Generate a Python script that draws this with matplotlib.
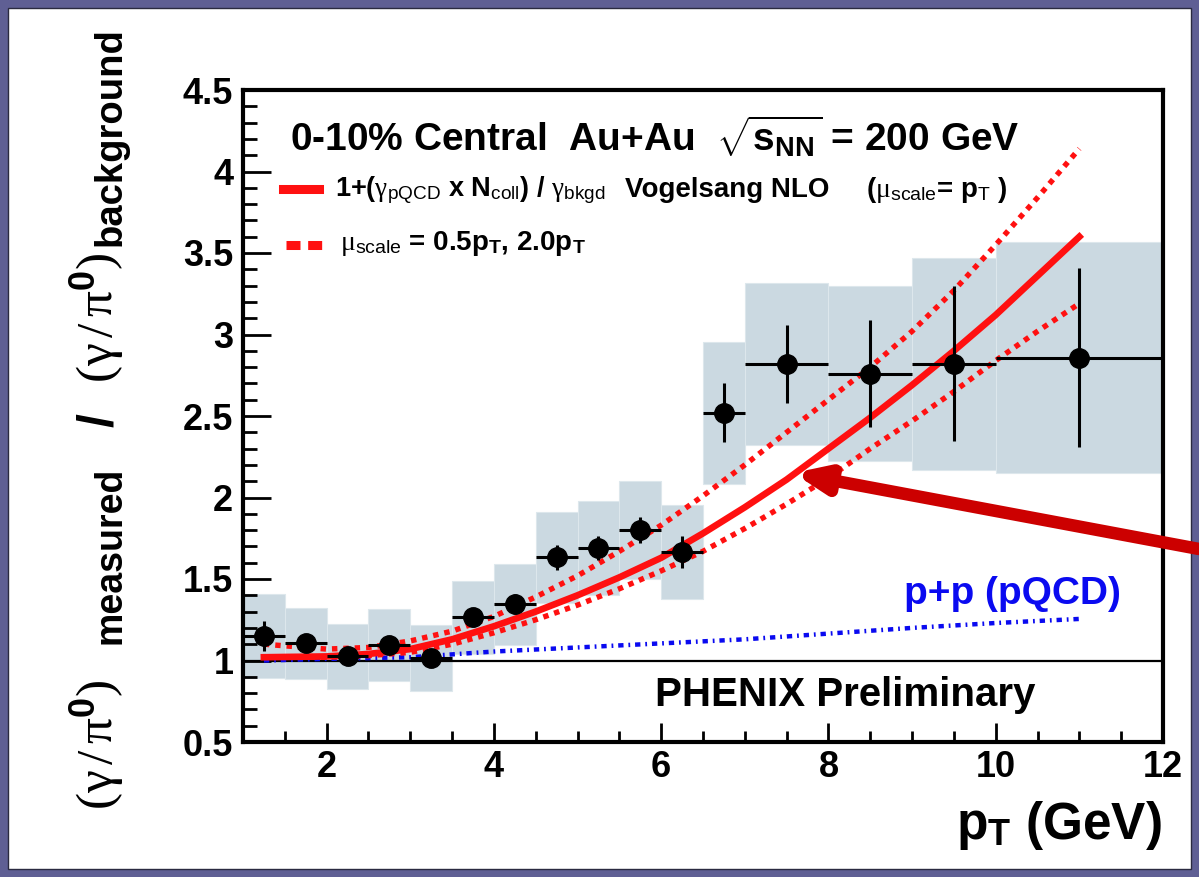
import matplotlib
matplotlib.use("Agg")
import matplotlib.pyplot as plt
from matplotlib.patches import Rectangle
from matplotlib.ticker import MultipleLocator, FormatStrFormatter

# ---------------- data ----------------
pt = [1.25, 1.75, 2.25, 2.75, 3.25, 3.75, 4.25, 4.75, 5.25, 5.75, 6.25, 6.75, 7.5, 8.5, 9.5, 11.0]
bin_lo = [1.0, 1.5, 2.0, 2.5, 3.0, 3.5, 4.0, 4.5, 5.0, 5.5, 6.0, 6.5, 7.0, 8.0, 9.0, 10.0]
bin_hi = [1.5, 2.0, 2.5, 3.0, 3.5, 4.0, 4.5, 5.0, 5.5, 6.0, 6.5, 7.0, 8.0, 9.0, 10.0, 12.0]
ratio = [1.15, 1.105, 1.025, 1.095, 1.015, 1.265, 1.345, 1.633, 1.69, 1.80, 1.665, 2.52, 2.82, 2.76, 2.82, 2.858]
stat_err = [0.09, 0.03, 0.03, 0.03, 0.03, 0.06, 0.06, 0.075, 0.075, 0.08, 0.10, 0.18, 0.24, 0.33, 0.475, 0.55]
sys_err = [0.255, 0.22, 0.20, 0.22, 0.20, 0.225, 0.25, 0.28, 0.29, 0.30, 0.29, 0.435, 0.495, 0.535, 0.65, 0.71]

theory_pt = [1.25, 2.0, 2.5, 3.0, 3.5, 4.0, 4.5, 5.0, 5.5, 6.0, 6.5, 7.0, 7.5, 8.0, 8.5, 9.0, 9.5, 10.0, 10.5, 11.0]
nlo_central = [1.02, 1.025, 1.04, 1.07, 1.13, 1.21, 1.30, 1.40, 1.51, 1.63, 1.78, 1.94, 2.11, 2.30, 2.49, 2.69, 2.90, 3.12, 3.36, 3.60]
nlo_upper = [1.10, 1.07, 1.08, 1.12, 1.18, 1.27, 1.39, 1.52, 1.67, 1.83, 2.01, 2.20, 2.40, 2.60, 2.80, 3.02, 3.27, 3.55, 3.84, 4.14]
nlo_lower = [1.02, 1.02, 1.03, 1.05, 1.10, 1.17, 1.25, 1.34, 1.44, 1.55, 1.67, 1.81, 1.96, 2.12, 2.30, 2.47, 2.65, 2.84, 3.02, 3.19]

pp_pt = [1.25, 2.0, 3.0, 4.0, 5.0, 6.0, 7.0, 8.0, 9.0, 10.0, 11.0]
pp_pqcd = [1.00, 1.01, 1.02, 1.055, 1.08, 1.105, 1.13, 1.165, 1.20, 1.23, 1.255]

# ---------------- style ----------------
plt.rcParams['font.family'] = ['Liberation Sans', 'DejaVu Sans']
plt.rcParams['mathtext.fontset'] = 'custom'
plt.rcParams['mathtext.rm'] = 'Liberation Serif'
plt.rcParams['mathtext.it'] = 'Liberation Serif:italic'
plt.rcParams['mathtext.bf'] = 'Liberation Sans:bold'
plt.rcParams['mathtext.sf'] = 'Liberation Sans'

RED = '#ff1010'
W, H = 1199, 877
fig = plt.figure(figsize=(W / 100, H / 100), dpi=100)
fig.patch.set_facecolor('#5f5f94')

# white slide panel
panel = Rectangle((8 / W, 8 / H), 1 - 16 / W, 1 - 16 / H, transform=fig.transFigure,
                  facecolor='white', edgecolor='#2a2a40', lw=1.0, zorder=-5)
fig.patches.append(panel)

ax = fig.add_axes([243 / W, 1 - 742 / H, (1163 - 243) / W, (742 - 90) / H])
ax.set_zorder(1)
ax.set_facecolor('white')
ax.set_xlim(1, 12)
ax.set_ylim(0.5, 4.5)

box_color = '#cbd9e1'
for lo, hi, y, s in zip(bin_lo, bin_hi, ratio, sys_err):
    ax.add_patch(Rectangle((lo, y - s), hi - lo, 2 * s, facecolor=box_color,
                           edgecolor='#dde7ec', lw=0.8, zorder=1))

ax.axhline(1.0, color='black', lw=1.6, zorder=2)

ax.plot(pp_pt, pp_pqcd, color='#0a0af0', lw=3.2, linestyle=(0, (1.2, 1.1, 0.4, 1.1)), zorder=3)

ax.plot(theory_pt, nlo_upper, color=RED, lw=3.9, linestyle=(0, (1.0, 1.1)), zorder=4)
ax.plot(theory_pt, nlo_lower, color=RED, lw=3.9, linestyle=(0, (1.0, 1.1)), zorder=4)
ax.plot(theory_pt, nlo_central, color=RED, lw=4.8, zorder=4)

xerr_lo = [p - lo for p, lo in zip(pt, bin_lo)]
xerr_hi = [hi - p for p, hi in zip(pt, bin_hi)]
ax.errorbar(pt, ratio, yerr=stat_err, xerr=[xerr_lo, xerr_hi], fmt='o', color='black',
            ms=14, elinewidth=2.2, capsize=0, zorder=5)

# axes styling
for sp in ax.spines.values():
    sp.set_linewidth(3.0)
    sp.set_zorder(6)
ax.xaxis.set_major_locator(MultipleLocator(2))
ax.xaxis.set_minor_locator(MultipleLocator(0.5))
ax.yaxis.set_major_locator(MultipleLocator(0.5))
ax.yaxis.set_minor_locator(MultipleLocator(0.1))
ax.yaxis.set_major_formatter(FormatStrFormatter('%g'))
ax.tick_params(which='both', direction='in', top=False, right=False, width=2.0, color='black')
ax.tick_params(axis='x', which='major', length=14, pad=6)
ax.tick_params(axis='x', which='minor', length=8)
ax.tick_params(axis='y', which='major', length=20, pad=7)
ax.tick_params(axis='y', which='minor', length=10)
for lab in ax.get_xticklabels() + ax.get_yticklabels():
    lab.set_fontsize(26)
    lab.set_fontweight('bold')

# texts
fig.text(290 / W, 1 - 137 / H, r'0-10% Central  Au+Au  $\sqrt{\mathbf{s}_{\mathbf{NN}}}$ = 200 GeV',
         fontsize=28, fontweight='bold', ha='left', va='center')

fs_leg = 20
fig.text(335 / W, 1 - 190 / H,
         r'1+($\mathrm{\gamma}_{\mathsf{pQCD}}$ x N$_{\mathsf{coll}}$) / $\mathrm{\gamma}_{\mathsf{bkgd}}$',
         fontsize=19.5, fontweight='bold', ha='left', va='center')
fig.text(625 / W, 1 - 190 / H, 'Vogelsang NLO',
         fontsize=fs_leg, fontweight='bold', ha='left', va='center')
fig.text(866 / W, 1 - 190 / H, r'($\mathrm{\mu}_{\mathsf{scale}}$= p$_{\mathsf{T}}$ )',
         fontsize=fs_leg, fontweight='bold', ha='left', va='center')
fig.text(340 / W, 1 - 244 / H,
         r'$\mathrm{\mu}_{\mathsf{scale}}$ = 0.5p$_{\mathbf{T}}$, 2.0p$_{\mathbf{T}}$',
         fontsize=fs_leg, fontweight='bold', ha='left', va='center')
# legend samples
fig.add_artist(plt.Line2D([283 / W, 319 / W], [1 - 189 / H, 1 - 189 / H], color=RED, lw=6.5))
fig.add_artist(plt.Line2D([286 / W, 324 / W], [1 - 245 / H, 1 - 245 / H], color=RED, lw=6.5,
                          linestyle=(0, (1.55, 0.85))))

ax.text(10.2, 1.41, 'p+p (pQCD)', color='#0a0af0', fontsize=28, fontweight='bold',
        ha='center', va='center')
ax.text(8.2, 0.79, 'PHENIX Preliminary', color='black', fontsize=29, fontweight='bold',
        ha='center', va='center')

fig.text(1162 / W, 1 - 826 / H, r'p$_{\mathbf{T}}$ (GeV)', fontsize=37, fontweight='bold',
         ha='right', va='center')

# y-axis title, composed piece by piece (reads bottom to top)
paren = r'$(\mathrm{\gamma}\,/\,\mathrm{\pi}^{\mathbf{0}})$'
fig.text(97 / W, 1 - 745 / H, paren, fontsize=37, rotation=90, ha='center', va='center')
fig.text(111 / W, 1 - 555 / H, 'measured', fontsize=27, fontweight='bold', rotation=90,
         ha='center', va='center')
fig.text(99 / W, 1 - 420 / H, '/', fontsize=36, fontweight='bold', rotation=90,
         ha='center', va='center')
fig.text(97 / W, 1 - 318 / H, paren, fontsize=37, rotation=90, ha='center', va='center')
fig.text(111 / W, 1 - 137 / H, 'background', fontsize=27.5, fontweight='bold', rotation=90,
         ha='center', va='center')

# arrow
ax.annotate('', xy=(7.58, 2.15), xycoords='data', xytext=(1.0, 1 - 549 / H), textcoords='figure fraction',
            arrowprops=dict(arrowstyle='-|>,head_length=0.6,head_width=0.25', color='#cc0000', lw=9,
                            mutation_scale=30, shrinkA=0, shrinkB=0),
            annotation_clip=False, zorder=10)

fig.savefig('out.png', dpi=100, facecolor=fig.get_facecolor())
